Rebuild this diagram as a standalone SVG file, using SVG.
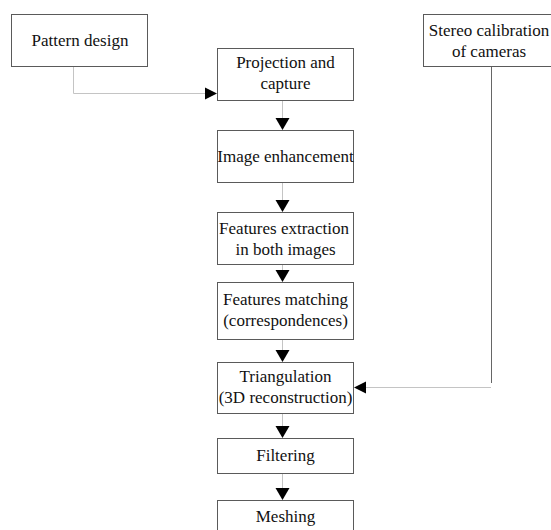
<svg xmlns="http://www.w3.org/2000/svg" width="551" height="530" viewBox="0 0 551 530">
<style>
.box{fill:#fff;stroke:#5a5a5a;stroke-width:1}
.t{font-family:'Liberation Serif','Times New Roman',serif;font-size:17px;fill:#111;text-anchor:middle}
.c{fill:none;stroke:#c4c4c4;stroke-width:1}
.cd{fill:none;stroke:#666;stroke-width:1}
.ah{fill:#000}
</style>
<rect width="551" height="530" fill="#fff"/>
<g id="connectors">
<polyline class="c" points="73.5,66 73.5,93.5 206,93.5"/>
<polygon class="ah" points="205,87.5 217,93.5 205,99.5"/>
<line class="c" x1="282.5" y1="100" x2="282.5" y2="119"/>
<polygon class="ah" points="275.5,118 289.5,118 282.5,130"/>
<line class="c" x1="282.5" y1="182" x2="282.5" y2="201"/>
<polygon class="ah" points="275.5,200 289.5,200 282.5,212"/>
<line class="c" x1="282.5" y1="264" x2="282.5" y2="271"/>
<polygon class="ah" points="275.5,270 289.5,270 282.5,282"/>
<line class="c" x1="282.5" y1="339" x2="282.5" y2="351"/>
<polygon class="ah" points="275.5,350 289.5,350 282.5,362"/>
<line class="c" x1="282.5" y1="413" x2="282.5" y2="427"/>
<polygon class="ah" points="275.5,426 289.5,426 282.5,438"/>
<line class="c" x1="282.5" y1="473" x2="282.5" y2="489"/>
<polygon class="ah" points="275.5,488 289.5,488 282.5,500"/>
<line class="cd" x1="491.5" y1="66" x2="491.5" y2="383"/>
<line class="c" x1="491" y1="387.5" x2="365" y2="387.5"/>
<polygon class="ah" points="366,381.5 354,387.5 366,393.5"/>
</g>
<g id="pattern-design">
<rect class="box" x="11.5" y="14.5" width="136" height="52"/>
<text class="t" x="80" y="46">Pattern design</text>
</g>
<g id="projection-capture">
<rect class="box" x="217.5" y="48.5" width="136" height="52"/>
<text class="t" x="285.5" y="68">Projection and</text>
<text class="t" x="285.5" y="89">capture</text>
</g>
<g id="stereo-calibration">
<rect class="box" x="423.5" y="14.5" width="132" height="52"/>
<text class="t" x="489" y="36">Stereo calibration</text>
<text class="t" x="489" y="57">of cameras</text>
</g>
<g id="image-enhancement">
<rect class="box" x="217.5" y="130.5" width="136" height="52"/>
<text class="t" x="285.5" y="162">Image enhancement</text>
</g>
<g id="features-extraction">
<rect class="box" x="217.5" y="212.5" width="136" height="52"/>
<text class="t" x="284" y="234">Features extraction</text>
<text class="t" x="285.5" y="255">in both images</text>
</g>
<g id="features-matching">
<rect class="box" x="217.5" y="282.5" width="136" height="57"/>
<text class="t" x="285.5" y="305">Features matching</text>
<text class="t" x="285.5" y="326">(correspondences)</text>
</g>
<g id="triangulation">
<rect class="box" x="217.5" y="362.5" width="136" height="51"/>
<text class="t" x="285.5" y="382">Triangulation</text>
<text class="t" x="285.5" y="403">(3D reconstruction)</text>
</g>
<g id="filtering">
<rect class="box" x="217.5" y="438.5" width="136" height="35"/>
<text class="t" x="285.5" y="461">Filtering</text>
</g>
<g id="meshing">
<rect class="box" x="217.5" y="500.5" width="136" height="40"/>
<text class="t" x="285.5" y="522">Meshing</text>
</g>
</svg>
